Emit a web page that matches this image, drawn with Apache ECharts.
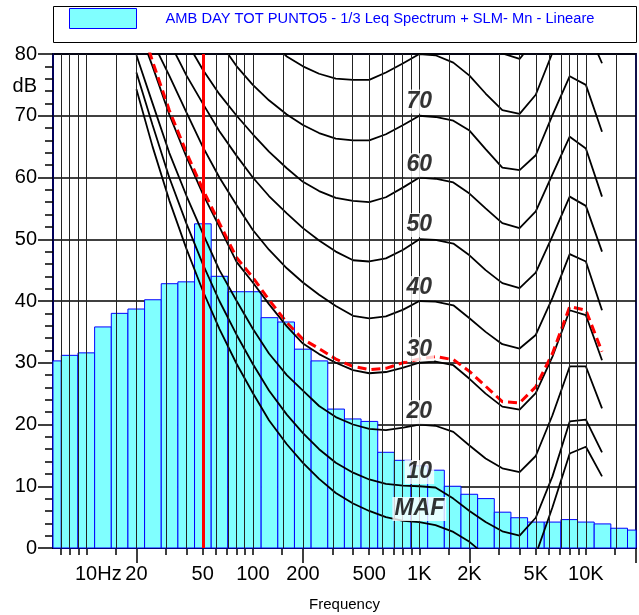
<!DOCTYPE html>
<html>
<head>
<meta charset="utf-8">
<script src="https://cdn.jsdelivr.net/npm/echarts@6.0.0/dist/echarts.min.js"></script>
<style>
html, body { margin: 0; padding: 0; background: #fff; }
#chart { width: 639px; height: 615px; }
</style>
</head>
<body>
<div id="chart"></div>
<script>
// 1/3 octave Leq spectrum
const bandFreqs = [6.3, 8, 10, 12.5, 16, 20, 25, 31.5, 40, 50, 63, 80, 100, 125, 160, 200, 250, 315, 400, 500,
  630, 800, 1000, 1250, 1600, 2000, 2500, 3150, 4000, 5000, 6300, 8000, 10000, 12500, 16000, 20000]
const bandLevels = [30.3, 31.2, 31.6, 35.8, 38.0, 38.7, 40.2, 42.8, 43.1, 52.5, 44.0, 41.5, 41.5, 37.3, 36.6, 32.2, 30.3, 22.5, 20.9, 20.5,
  15.5, 14.2, 13.3, 12.6, 10.0, 8.7, 8.0, 5.8, 4.9, 4.2, 4.2, 4.6, 4.2, 3.9, 3.2, 2.9]

// equal loudness contours, read at 1/3 octave points
const contourFreqs = [20, 25, 31.5, 40, 50, 63, 80, 100, 125, 160, 200, 250, 315, 400, 500, 630, 800,
  1000, 1250, 1600, 2000, 2500, 3150, 4000, 5000, 6300, 8000, 10000, 12500]
const mafCurve = [74.3, 65.0, 56.3, 48.4, 41.7, 35.5, 29.8, 25.1, 20.7, 16.8, 13.8, 11.2, 8.9, 7.2, 6.0, 5.0, 4.4,
  4.2, 3.7, 2.6, 1.0, -1.2, -3.6, -3.9, -1.1, 6.6, 15.3, 16.4, 11.6]
const phon10 = [77.0, 68.5, 60.0, 52.5, 46.0, 40.0, 34.5, 29.8, 25.5, 21.6, 18.6, 16.0, 13.8, 12.2, 11.1, 10.4, 10.1,
  10.0, 9.8, 8.0, 6.0, 4.2, 2.7, 2.0, 4.9, 11.6, 20.5, 20.8, 15.5]
const phon20 = [79.8, 72.0, 64.0, 57.0, 51.0, 45.0, 40.0, 35.5, 31.5, 28.0, 25.5, 23.0, 21.2, 20.0, 19.3, 19.1, 19.5,
  20.0, 19.8, 18.8, 16.6, 14.5, 12.9, 12.3, 14.9, 21.5, 29.4, 29.4, 22.6]
const phon30 = [85.0, 78.0, 70.2, 63.3, 57.4, 52.0, 46.3, 43.0, 39.5, 35.9, 33.1, 31.4, 30.0, 28.8, 28.3, 28.5, 29.2,
  30.0, 30.2, 29.6, 27.4, 25.0, 22.9, 22.4, 25.1, 31.0, 38.5, 37.7, 30.4]
const phon40 = [87.0, 82.0, 76.5, 70.5, 65.0, 60.0, 55.5, 51.5, 48.3, 45.3, 43.0, 41.0, 39.2, 37.6, 37.2, 37.5, 38.6,
  40.0, 39.9, 39.3, 37.2, 35.0, 33.0, 32.3, 34.5, 40.5, 47.6, 46.4, 38.5]
const phon50 = [92.0, 87.0, 82.0, 76.5, 72.0, 67.5, 63.5, 60.0, 57.0, 54.2, 51.8, 49.8, 48.0, 46.6, 46.4, 46.9, 48.3,
  50.0, 49.9, 49.3, 47.4, 45.0, 42.9, 42.1, 44.6, 50.5, 56.9, 55.4, 48.0]
const phon60 = [97.0, 92.0, 88.0, 82.0, 77.5, 73.5, 70.0, 67.0, 64.2, 61.5, 59.3, 57.8, 56.7, 56.2, 56.0, 56.8, 58.4,
  60.0, 59.8, 59.2, 57.4, 55.0, 52.6, 51.8, 54.5, 60.5, 66.6, 64.7, 56.9]
const phon70 = [102.0, 98.0, 94.0, 90.0, 86.0, 82.0, 78.0, 75.0, 72.5, 70.2, 68.5, 67.2, 66.3, 66.0, 66.0, 67.0, 68.5,
  70.0, 69.8, 69.2, 67.6, 64.6, 61.6, 61.2, 63.6, 70.1, 76.4, 75.0, 67.4]
const phon80 = [108.0, 104.0, 100.0, 97.0, 94.0, 91.0, 87.5, 85.0, 82.3, 79.6, 78.0, 76.8, 76.0, 75.8, 75.8, 77.0, 78.5,
  80.0, 79.8, 78.6, 76.5, 73.6, 70.9, 70.3, 73.4, 80.2, 86.5, 84.5, 78.5]
const phon90 = [113.0, 110.0, 107.0, 104.0, 101.5, 99.0, 97.0, 95.0, 93.0, 91.0, 89.5, 88.0, 87.0, 86.5, 86.3, 87.0, 88.5,
  90.0, 89.8, 88.6, 86.2, 83.2, 80.1, 79.2, 82.5, 89.5, 96.0, 94.0, 88.0]
// red dashed contour touching the spectrum
const dashedCurve = [87.0, 78.8, 70.9, 64.0, 58.1, 52.6, 47.0, 43.8, 40.2, 36.5, 33.8, 32.3, 30.6, 29.4, 28.9, 29.1, 30.0,
  30.6, 31.0, 30.5, 28.6, 26.2, 23.7, 23.5, 26.1, 31.5, 39.1, 38.5, 31.8]

const curveLabelTexts = ['MAF', '10', '20', '30', '40', '50', '60', '70']
const curveLabelLevels = [6.3, 12.3, 22.0, 32.2, 42.1, 52.3, 62.0, 72.3]
const curveLabelFreq = 1000
const markerFreq = 50

const gridFreqs = [7, 8, 9, 10, 15, 20, 30, 40, 50, 60, 70, 80, 90, 100, 150, 200, 300, 400, 500, 600, 700, 800, 900,
  1000, 1500, 2000, 3000, 4000, 5000, 6000, 7000, 8000, 9000, 10000, 15000]
const longTickFreqs = [20, 200, 2000, 20000]
const labelFreqs = [10, 20, 50, 100, 200, 500, 1000, 2000, 5000, 10000]
const labelTexts = ['10Hz', '20', '50', '100', '200', '500', '1K', '2K', '5K', '10K']

const legendName = 'AMB DAY TOT PUNTO5 - 1/3 Leq Spectrum + SLM- Mn - Lineare'
const FONT = 'Liberation Sans, Arial, sans-serif'

const lg = Math.log10
const toXY = (freqs, vals) => freqs.map((f, i) => [lg(f), vals[i]])

function freqLabel(v) {
  let best = 0
  labelFreqs.forEach((f, i) => { if (Math.abs(lg(f) - v) < Math.abs(lg(labelFreqs[best]) - v)) best = i })
  const t = labelTexts[best]
  return t.indexOf('Hz') >= 0 ? `{hz|${t}}` : t
}

const chart = echarts.init(document.getElementById('chart'), null, { renderer: 'canvas' })

const series = []

// vertical grid lines (behind bars)
series.push({
  type: 'line', data: [], z: 1, silent: true, animation: false,
  markLine: {
    silent: true, symbol: 'none', animation: false,
    label: { show: false },
    lineStyle: { color: '#222', width: 1, type: 'solid' },
    data: gridFreqs.map(f => ({ xAxis: lg(f) })),
  },
})

// spectrum bars
series.push({
  type: 'custom', name: legendName, z: 2, animation: false,
  data: toXY(bandFreqs, bandLevels),
  renderItem(params, api) {
    const c = Math.round(api.value(0) * 10) / 10
    const v = api.value(1)
    const p0 = api.coord([c - 0.05, v])
    const p1 = api.coord([c + 0.05, 0])
    const cs = params.coordSys
    const x0 = Math.max(p0[0], cs.x)
    const x1 = Math.min(p1[0], cs.x + cs.width)
    return {
      type: 'rect',
      shape: { x: x0, y: p0[1], width: x1 - x0, height: p1[1] - p0[1] },
      style: { fill: '#80ffff', stroke: '#0000ff', lineWidth: 1 },
    }
  },
})

// contours
;[mafCurve, phon10, phon20, phon30, phon40, phon50, phon60, phon70, phon80, phon90].forEach(vals => {
  series.push({
    type: 'line', data: toXY(contourFreqs, vals), symbol: 'none', z: 3, silent: true, animation: false,
    clip: true, lineStyle: { color: '#000', width: 1.8 },
  })
})

series.push({
  type: 'line', data: toXY(contourFreqs, dashedCurve), symbol: 'none', z: 4, silent: true, animation: false,
  clip: true, lineStyle: { color: '#ff0000', width: 3, type: [9, 5] },
})

// 50 Hz marker
series.push({
  type: 'line', data: [], z: 5, silent: true, animation: false,
  markLine: {
    silent: true, symbol: 'none', animation: false, label: { show: false },
    lineStyle: { color: '#ff0000', width: 3, type: 'solid' },
    data: [{ xAxis: lg(markerFreq) }],
  },
})

// contour names
series.push({
  type: 'scatter', z: 6, silent: true, animation: false, symbolSize: 1,
  itemStyle: { color: 'rgba(0,0,0,0)' },
  data: curveLabelLevels.map((v, i) => ({ value: [lg(curveLabelFreq), v], label: { formatter: curveLabelTexts[i] } })),
  label: {
    show: true, position: 'inside', color: '#000', fontSize: 23, fontWeight: 'bold', fontStyle: 'italic',
    fontFamily: FONT, backgroundColor: '#fff', padding: [1, 2, 0, 2],
  },
})

chart.setOption({
  animation: false,
  backgroundColor: '#fff',
  grid: {
    left: 53, right: 3, top: 54, bottom: 67, show: true, borderColor: '#10104a', borderWidth: 2,
    containLabel: false, outerBoundsMode: 'none',
  },
  legend: {
    left: 64, top: 3, selectedMode: false, icon: 'rect', itemWidth: 67, itemHeight: 20,
    data: [{ name: legendName, itemStyle: { color: '#80ffff', borderColor: '#0000ff', borderWidth: 1 } }],
    textStyle: { color: '#0000ff', fontSize: 14.7, fontFamily: FONT, padding: [0, 0, 6, 24] },
  },
  graphic: [{
    type: 'rect', left: 53, top: 6, z: 0,
    shape: { width: 583, height: 36 },
    style: { fill: '#fff', stroke: '#000', lineWidth: 1 },
  }],
  xAxis: [{
    type: 'value', min: 0.8, max: lg(20000), position: 'bottom',
    axisLine: { show: true, lineStyle: { color: '#000', width: 2 } },
    axisTick: { show: true, customValues: gridFreqs.map(lg), length: 7, lineStyle: { color: '#000', width: 1.5 } },
    axisLabel: { show: false },
    splitLine: { show: false },
    name: 'Frequency', nameLocation: 'middle', nameGap: 49,
    nameTextStyle: { fontSize: 15, color: '#000', fontFamily: FONT },
  }, {
    type: 'value', min: 0.8, max: lg(20000), position: 'bottom',
    axisLine: { show: false },
    axisTick: { show: true, customValues: longTickFreqs.map(lg), length: 15, lineStyle: { color: '#000', width: 1.5 } },
    axisLabel: {
      show: true, customValues: labelFreqs.map(lg), margin: 16, fontSize: 20, color: '#000', fontFamily: FONT,
      formatter: freqLabel,
      rich: { hz: { fontSize: 20, color: '#000', fontFamily: FONT, padding: [0, 0, 0, 24] } },
    },
    splitLine: { show: false },
  }],
  yAxis: [{
    type: 'value', min: 0, max: 80, interval: 10,
    axisLine: { show: true, lineStyle: { color: '#00005a', width: 2 } },
    axisTick: { show: true, length: 15, lineStyle: { color: '#000', width: 1.5 } },
    minorTick: { show: true, splitNumber: 5, length: 8, lineStyle: { color: '#000', width: 1.5 } },
    axisLabel: { fontSize: 20, color: '#000', margin: 16, fontFamily: FONT },
    splitLine: { show: true, lineStyle: { color: '#000', width: 1.6 } },
    name: 'dB', nameLocation: 'end', nameGap: -32,
    nameTextStyle: { fontSize: 20, color: '#000', fontFamily: FONT, align: 'right', verticalAlign: 'middle', padding: [0, 16, 0, 0] },
  }],
  series,
})
</script>
</body>
</html>
